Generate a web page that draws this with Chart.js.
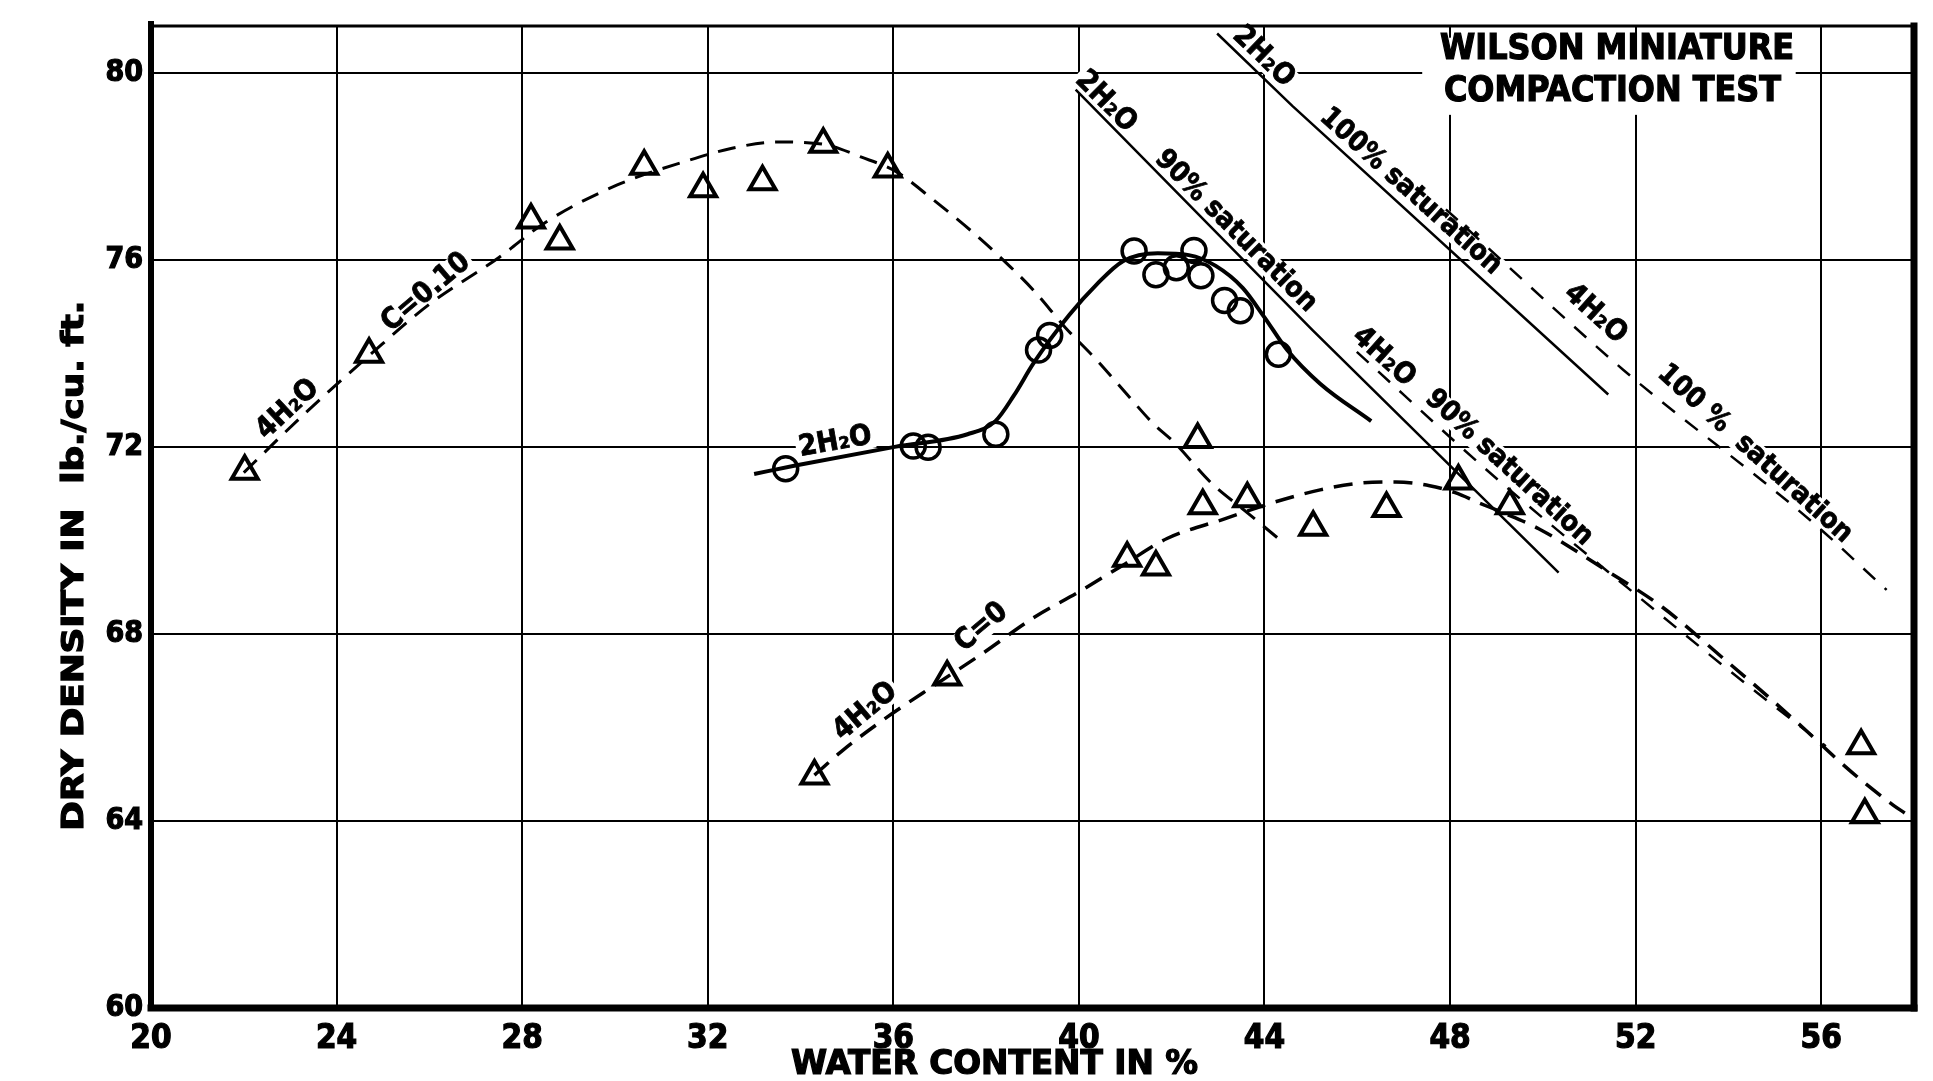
<!DOCTYPE html>
<html>
<head>
    <title>Wilson Miniature Compaction Test</title>
    <script src="https://cdn.jsdelivr.net/npm/chart.js"></script>
    <style>
        html, body { margin: 0; padding: 0; background: #fff; }
        canvas { display: block; }
    </style>
</head>
<body>
    <canvas id="compactionChart" width="1933" height="1081"></canvas>
    <script>
        // axis ticks
        const xTicks = [20, 24, 28, 32, 36, 40, 44, 48, 52, 56];
        const yTicks = [60, 64, 68, 72, 76, 80];

        // C = 0.10, 4 H2O : measured points (triangles)
        const c10PtsX = [22.02, 24.7, 28.19, 28.81, 30.63, 31.9, 33.18, 34.49, 35.88, 42.56];
        const c10PtsY = [71.48, 73.98, 76.85, 76.4, 78.0, 77.52, 77.67, 78.47, 77.94, 72.16];
        // C = 0.10 fitted curve
        const c10CurveX = [22.0, 23.3, 24.7, 26.0, 27.5, 28.5, 30.05, 31.5, 32.5, 33.5, 34.5, 35.3, 36.07, 36.84, 37.7, 38.28, 39.03, 39.7, 40.38, 41.1, 41.6, 42.07, 42.84, 43.62, 44.42];
        const c10CurveY = [71.45, 72.7, 73.95, 75.05, 76.05, 76.8, 77.6, 78.1, 78.38, 78.52, 78.47, 78.2, 77.88, 77.3, 76.6, 76.08, 75.34, 74.56, 73.86, 73.05, 72.5, 72.08, 71.24, 70.6, 69.94];

        // C = 0, 4 H2O : measured points (triangles)
        const c0PtsX = [34.3, 37.16, 41.04, 41.66, 42.67, 43.63, 45.05, 46.63, 48.18, 49.29, 56.86, 56.94];
        const c0PtsY = [64.96, 67.08, 69.62, 69.43, 70.74, 70.89, 70.28, 70.68, 71.27, 70.74, 65.61, 64.13];
        // C = 0 fitted curve
        const c0CurveX = [34.3, 34.91, 35.88, 36.93, 37.89, 39.03, 40.0, 40.95, 41.9, 43.14, 44.19, 45.2, 46.12, 46.83, 47.56, 48.11, 48.63, 49.12, 49.91, 51.3, 52.58, 53.91, 54.83, 55.58, 56.33, 56.89, 57.55, 57.8];
        const c0CurveY = [64.98, 65.51, 66.23, 66.93, 67.56, 68.35, 68.9, 69.47, 70.04, 70.46, 70.81, 71.08, 71.23, 71.25, 71.17, 71.02, 70.8, 70.6, 70.25, 69.4, 68.57, 67.46, 66.68, 66.02, 65.33, 64.85, 64.34, 64.17];

        // 2 H2O : measured points (circles)
        const h2PtsX = [33.68, 36.43, 36.75, 38.21, 39.13, 39.37, 41.19, 41.66, 42.1, 42.48, 42.63, 43.14, 43.48, 44.3];
        const h2PtsY = [71.53, 72.02, 71.99, 72.27, 74.07, 74.38, 76.19, 75.68, 75.83, 76.2, 75.66, 75.13, 74.91, 73.98];
        // 2 H2O fitted curve
        const h2CurveX = [33.0, 33.89, 36.03, 37.6, 38.2, 38.6, 39.03, 39.8, 40.38, 40.95, 41.7, 42.37, 42.95, 43.53, 44.0, 44.49, 45.2, 46.3];
        const h2CurveY = [71.42, 71.6, 72.0, 72.27, 72.55, 73.1, 73.8, 74.83, 75.47, 75.97, 76.14, 76.1, 75.87, 75.4, 74.77, 74.07, 73.35, 72.55];

        // saturation lines
        const sat90h2X = [39.93, 45.03, 50.34];
        const sat90h2Y = [79.64, 74.5, 69.31];
        const sat100h2X = [42.98, 44.6, 51.41];
        const sat100h2Y = [80.84, 79.29, 73.12];
        const sat90h4X = [45.99, 48.97, 51.81, 54.62, 56.1];
        const sat90h4Y = [74.03, 71.35, 69.0, 66.74, 65.6];
        const sat100h4X = [47.91, 51.73, 55.8, 57.41];
        const sat100h4Y = [77.08, 73.65, 70.4, 68.94];

        const FONT = "'DejaVu Sans Condensed', 'DejaVu Sans', sans-serif";

        function pts(xs, ys) {
            return xs.map((x, i) => ({ x: x, y: ys[i] }));
        }

        // text notes along the curves, placed in data units
        const notes = [
            { text: '4H\u2082O', x: 22.95, y: 72.8, angle: -43, size: 29 },
            { text: 'C=0.10', x: 25.93, y: 75.3, angle: -40, size: 29 },
            { text: '2H\u2082O', x: 34.75, y: 72.1, angle: -10, size: 29 },
            { text: '4H\u2082O', x: 35.4, y: 66.34, angle: -40, size: 29 },
            { text: 'C=0', x: 37.9, y: 68.14, angle: -40, size: 29 },
            { text: '2H\u2082O', x: 40.58, y: 79.38, angle: 45, size: 29 },
            { text: '90% saturation', x: 43.38, y: 76.61, angle: 45, size: 28 },
            { text: '2H\u2082O', x: 43.98, y: 80.34, angle: 44, size: 29 },
            { text: '100% saturation', x: 47.15, y: 77.46, angle: 42, size: 28 },
            { text: '4H\u2082O', x: 46.57, y: 73.92, angle: 42, size: 29 },
            { text: '90% saturation', x: 49.27, y: 71.55, angle: 42.5, size: 28 },
            { text: '4H\u2082O', x: 51.13, y: 74.84, angle: 42, size: 29 },
            { text: '100 %  saturation', x: 54.57, y: 71.85, angle: 42, size: 28 }
        ];

        function fitText(ctx, text, cx, cy, size, width, angle) {
            ctx.save();
            ctx.font = 'bold ' + size + 'px ' + FONT;
            const w = ctx.measureText(text).width;
            ctx.translate(cx, cy);
            if (angle) ctx.rotate(angle * Math.PI / 180);
            ctx.scale(width / w, 1);
            ctx.textAlign = 'center';
            ctx.textBaseline = 'middle';
            ctx.fillStyle = '#000';
            ctx.strokeStyle = '#000';
            ctx.lineWidth = 1.2;
            ctx.fillText(text, 0, 0);
            ctx.strokeText(text, 0, 0);
            ctx.restore();
        }

        const decorations = {
            id: 'decorations',
            beforeDatasetsDraw(chart) {
                const ctx = chart.ctx;
                const xs = chart.scales.x, ys = chart.scales.y;
                const a = chart.chartArea;

                // notes with white backing that interrupts the grid
                notes.forEach(n => {
                    const px = xs.getPixelForValue(n.x), py = ys.getPixelForValue(n.y);
                    ctx.save();
                    ctx.translate(px, py);
                    ctx.rotate(n.angle * Math.PI / 180);
                    ctx.font = 'bold ' + n.size + 'px ' + FONT;
                    const w = ctx.measureText(n.text).width;
                    ctx.fillStyle = '#fff';
                    ctx.fillRect(-w / 2 - 3, -n.size * 0.42, w + 6, n.size * 0.84);
                    ctx.fillStyle = '#000';
                    ctx.strokeStyle = '#000';
                    ctx.lineWidth = 0.8;
                    ctx.textAlign = 'center';
                    ctx.textBaseline = 'middle';
                    ctx.fillText(n.text, 0, 0);
                    ctx.strokeText(n.text, 0, 0);
                    ctx.restore();
                });

                // title box
                const bx0 = xs.getPixelForValue(47.4), bx1 = xs.getPixelForValue(55.45);
                const by0 = ys.getPixelForValue(80.75), by1 = ys.getPixelForValue(79.1);
                ctx.fillStyle = '#fff';
                ctx.fillRect(bx0, by0, bx1 - bx0, by1 - by0);
                fitText(ctx, 'WILSON MINIATURE', xs.getPixelForValue(51.6), ys.getPixelForValue(80.5), 36, 354);
                fitText(ctx, 'COMPACTION TEST', xs.getPixelForValue(51.5), ys.getPixelForValue(79.6), 36, 337);

                // frame
                ctx.save();
                ctx.strokeStyle = '#000';
                ctx.lineCap = 'square';
                ctx.lineWidth = 3;
                ctx.beginPath(); ctx.moveTo(a.left, a.top); ctx.lineTo(a.right, a.top); ctx.stroke();
                ctx.lineWidth = 6;
                ctx.beginPath(); ctx.moveTo(a.left, a.top - 2); ctx.lineTo(a.left, a.bottom); ctx.stroke();
                ctx.lineWidth = 7;
                ctx.beginPath(); ctx.moveTo(a.left, a.bottom); ctx.lineTo(a.right, a.bottom); ctx.stroke();
                ctx.beginPath(); ctx.moveTo(a.right, a.top); ctx.lineTo(a.right, a.bottom); ctx.stroke();
                ctx.restore();

                // axis titles
                fitText(ctx, 'DRY DENSITY IN  lb./cu. ft.', xs.getPixelForValue(18.37), ys.getPixelForValue(69.46), 30, 530, -90);
                fitText(ctx, 'WATER CONTENT IN %', xs.getPixelForValue(38.18), ys.getPixelForValue(58.77), 34, 407);
            }
        };

        const ctx = document.getElementById('compactionChart').getContext('2d');
        new Chart(ctx, {
            type: 'scatter',
            data: {
                datasets: [
                    {
                        data: pts(c10CurveX, c10CurveY),
                        showLine: true, borderColor: '#000', borderWidth: 3,
                        borderDash: [18, 11], pointRadius: 0, cubicInterpolationMode: 'monotone'
                    },
                    {
                        data: pts(c0CurveX, c0CurveY),
                        showLine: true, borderColor: '#000', borderWidth: 3.5,
                        borderDash: [19, 11], pointRadius: 0, cubicInterpolationMode: 'monotone'
                    },
                    {
                        data: pts(h2CurveX, h2CurveY),
                        showLine: true, borderColor: '#000', borderWidth: 4,
                        pointRadius: 0, cubicInterpolationMode: 'monotone'
                    },
                    {
                        data: pts(sat90h2X, sat90h2Y),
                        showLine: true, borderColor: '#000', borderWidth: 2.5, pointRadius: 0
                    },
                    {
                        data: pts(sat100h2X, sat100h2Y),
                        showLine: true, borderColor: '#000', borderWidth: 2.5, pointRadius: 0
                    },
                    {
                        data: pts(sat90h4X, sat90h4Y),
                        showLine: true, borderColor: '#000', borderWidth: 2.5,
                        borderDash: [16, 13], pointRadius: 0, cubicInterpolationMode: 'monotone'
                    },
                    {
                        data: pts(sat100h4X, sat100h4Y),
                        showLine: true, borderColor: '#000', borderWidth: 2.5,
                        borderDash: [16, 13], pointRadius: 0, cubicInterpolationMode: 'monotone'
                    },
                    {
                        data: pts(c10PtsX, c10PtsY),
                        pointStyle: 'triangle', pointRadius: 15, borderWidth: 4,
                        borderColor: '#000', backgroundColor: 'rgba(0,0,0,0)'
                    },
                    {
                        data: pts(c0PtsX, c0PtsY),
                        pointStyle: 'triangle', pointRadius: 15, borderWidth: 4,
                        borderColor: '#000', backgroundColor: 'rgba(0,0,0,0)'
                    },
                    {
                        data: pts(h2PtsX, h2PtsY),
                        pointStyle: 'circle', pointRadius: 12, borderWidth: 3.5,
                        borderColor: '#000', backgroundColor: 'rgba(0,0,0,0)'
                    }
                ]
            },
            options: {
                responsive: false,
                animation: false,
                devicePixelRatio: 1,
                layout: { padding: { top: 16, right: 7, left: 0, bottom: 0 } },
                plugins: {
                    legend: { display: false },
                    tooltip: { enabled: false }
                },
                scales: {
                    x: {
                        type: 'linear', min: 20, max: 58,
                        afterBuildTicks: s => { s.ticks = xTicks.map(v => ({ value: v })); },
                        afterFit: s => { s.height = 73; },
                        grid: { color: '#000', lineWidth: 2, drawTicks: false },
                        border: { display: false },
                        ticks: {
                            color: '#000', padding: 12, maxRotation: 0, autoSkip: false,
                            textStrokeColor: '#000', textStrokeWidth: 1.2,
                            font: { family: FONT, size: 33, weight: 'bold' }
                        }
                    },
                    y: {
                        type: 'linear', min: 60, max: 81,
                        afterBuildTicks: s => { s.ticks = yTicks.map(v => ({ value: v })); },
                        afterFit: s => { s.width = 151; },
                        grid: { color: '#000', lineWidth: 2, drawTicks: false },
                        border: { display: false },
                        ticks: {
                            color: '#000', padding: 8, autoSkip: false,
                            textStrokeColor: '#000', textStrokeWidth: 1.2,
                            font: { family: FONT, size: 30, weight: 'bold' }
                        }
                    }
                }
            },
            plugins: [decorations]
        });
    </script>
</body>
</html>
